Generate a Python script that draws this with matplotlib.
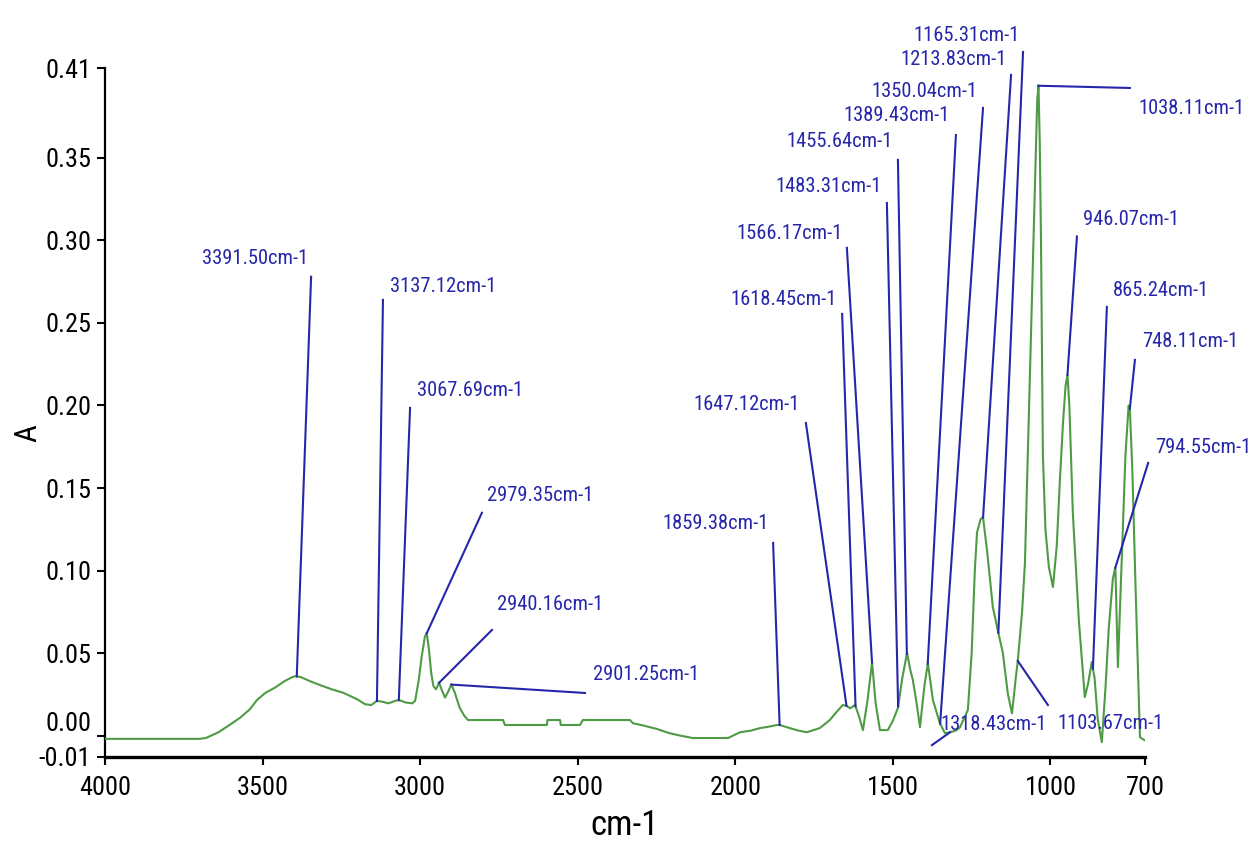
import numpy as np
import matplotlib
matplotlib.use("Agg")
import matplotlib.pyplot as plt
from matplotlib import font_manager as fm
from matplotlib.textpath import TextPath

# ---------------- data ----------------
wavenumber = [4000, 3700, 3680, 3640, 3600, 3570, 3540, 3518, 3490, 3461, 3430, 3410, 3397, 3380,
              3350, 3318, 3280, 3245, 3200, 3175, 3155, 3137, 3120, 3100, 3080, 3067, 3045, 3025,
              3016, 3005, 2995, 2985, 2979, 2972, 2965, 2958, 2950, 2940, 2930, 2921, 2910, 2901,
              2890, 2875, 2860, 2848, 2737, 2731, 2598, 2596, 2556, 2554, 2493, 2484, 2334, 2325,
              2290, 2249, 2210, 2176, 2135, 2023, 1985, 1950, 1922, 1890, 1868, 1859, 1827, 1800,
              1773, 1732, 1700, 1680, 1659, 1647, 1636, 1620, 1608, 1595, 1580, 1566, 1555, 1541,
              1516, 1500, 1484, 1470, 1455, 1445, 1437, 1425, 1414, 1400, 1389, 1373, 1351, 1335,
              1319, 1300, 1287, 1262, 1250, 1240, 1233, 1222, 1214, 1200, 1183, 1165, 1151, 1135,
              1122, 1110, 1104, 1090, 1081, 1065, 1050, 1042, 1038, 1034, 1030, 1024, 1016, 1005,
              992, 980, 970, 960, 952, 946, 940, 929, 910, 891, 880, 869, 860, 850, 837, 825, 815,
              802, 794, 786, 775, 762, 752, 748, 740, 730, 716, 700]
absorbance = [-0.002, -0.002, -0.0015, 0.002, 0.007, 0.011, 0.016, 0.0215, 0.026, 0.029, 0.033, 0.035, 0.036, 0.0355,
              0.033, 0.0306, 0.028, 0.026, 0.022, 0.019, 0.0185, 0.021, 0.0205, 0.0195, 0.021, 0.0215, 0.020, 0.0195,
              0.021, 0.033, 0.048, 0.060, 0.062, 0.052, 0.038, 0.030, 0.028, 0.032, 0.027, 0.023, 0.027, 0.031,
              0.026, 0.017, 0.012, 0.0094, 0.0094, 0.0064, 0.0064, 0.0094, 0.0094, 0.0064, 0.0064, 0.0094, 0.0094, 0.0075,
              0.006, 0.004, 0.0015, 0.0, -0.0015, -0.0015, 0.002, 0.003, 0.0045, 0.0055, 0.0064, 0.0064, 0.0045, 0.003,
              0.002, 0.0045, 0.0094, 0.014, 0.0185, 0.018, 0.0165, 0.0185, 0.012, 0.0033, 0.022, 0.0445, 0.020, 0.0033,
              0.0033, 0.009, 0.0167, 0.035, 0.050, 0.040, 0.034, 0.020, 0.005, 0.030, 0.044, 0.0215, 0.0076, 0.0015,
              0.002, 0.003, 0.005, 0.0155, 0.050, 0.100, 0.123, 0.131, 0.1324, 0.110, 0.078, 0.062, 0.050, 0.025,
              0.0135, 0.035, 0.0445, 0.075, 0.1045, 0.220, 0.330, 0.385, 0.394, 0.360, 0.300, 0.170, 0.125, 0.102,
              0.090, 0.115, 0.155, 0.190, 0.212, 0.2185, 0.200, 0.135, 0.070, 0.0233, 0.032, 0.0445, 0.035, 0.010, -0.004, 0.030, 0.065,
              0.095, 0.102, 0.0415, 0.100, 0.170, 0.200, 0.198, 0.160, 0.090, -0.001, -0.003]

peak_labels = ["3391.50cm-1", "3137.12cm-1", "3067.69cm-1", "2979.35cm-1", "2940.16cm-1", "2901.25cm-1",
               "1859.38cm-1", "1647.12cm-1", "1618.45cm-1", "1566.17cm-1", "1483.31cm-1", "1455.64cm-1",
               "1389.43cm-1", "1350.04cm-1", "1213.83cm-1", "1165.31cm-1", "1038.11cm-1", "946.07cm-1",
               "865.24cm-1", "748.11cm-1", "794.55cm-1", "1318.43cm-1", "1103.67cm-1"]
peak_positions = [3391.50, 3137.12, 3067.69, 2979.35, 2940.16, 2901.25, 1859.38, 1647.12, 1618.45, 1566.17,
                  1483.31, 1455.64, 1389.43, 1350.04, 1213.83, 1165.31, 1038.11, 946.07, 865.24, 748.11,
                  794.55, 1318.43, 1103.67]

x_ticks = [4000, 3500, 3000, 2500, 2000, 1500, 1000, 700]
y_min, y_max = -0.013, 0.4045
y_ticks = [y_min, 0.00, 0.05, 0.10, 0.15, 0.20, 0.25, 0.30, 0.35, y_max]
y_tick_labels = ["-0.01", "0.00", "0.05", "0.10", "0.15", "0.20", "0.25", "0.30", "0.35", "0.41"]

# ---------------- layout of the annotations (leader end, text anchor, alignment) ----------------
leader_end = [(3346, 0.278), (3118, 0.264), (3032, 0.1985), (2804, 0.135), (2772, 0.064), (2477, 0.0258),
              (1880, 0.1167), (1776, 0.1894), (1661, 0.2555), (1646, 0.2955), (1519, 0.3227), (1484, 0.3488),
              (1300, 0.3639), (1214, 0.3803), (1125, 0.4003), (1087, 0.4142), (748, 0.3924), (916, 0.3024),
              (821, 0.2597), (732, 0.2276), (690, 0.1652), (1376, -0.0058), (1008, 0.0185)]
text_anchor = [(3356, 0.2888, 'right'), (3096, 0.2718, 'left'), (3010, 0.2088, 'left'), (2788, 0.1452, 'left'),
               (2756, 0.0797, 'left'), (2451, 0.0367, 'left'), (1893, 0.1282, 'right'), (1795, 0.2003, 'right'),
               (1677, 0.2645, 'right'), (1658, 0.3045, 'right'), (1534, 0.3324, 'right'), (1500, 0.3597, 'right'),
               (1319, 0.3755, 'right'), (1230, 0.3900, 'right'), (1138, 0.4094, 'right'), (1097, 0.4239, 'right'),
               (722, 0.3797, 'left'), (897, 0.3127, 'left'), (801, 0.2694, 'left'), (709, 0.2385, 'left'),
               (668, 0.1748, 'left'), (1350, 0.0064, 'left'), (979, 0.0076, 'left')]

GREEN = '#4f9a45'
BLUE = '#2626aa'
DPI = 100

# ---------------- font: prefer a narrow/condensed sans ----------------
entries = fm.fontManager.ttflist
names = {e.name for e in entries}
family, stretch = 'Liberation Sans', 'normal'
for cand in ['Liberation Sans Narrow', 'Arial Narrow', 'Roboto Condensed', 'Open Sans Condensed',
             'Noto Sans Condensed', 'DejaVu Sans Condensed']:
    if cand in names:
        family = cand
        break
else:
    for fam in ['Liberation Sans', 'Roboto', 'Noto Sans', 'Open Sans', 'DejaVu Sans']:
        if any(e.name == fam and str(e.stretch) in ('condensed', 'semi-condensed', 'extra-condensed')
               and e.style == 'normal' for e in entries):
            family, stretch = fam, 'condensed'
            break
plt.rcParams['font.family'] = [family, 'DejaVu Sans']
plt.rcParams['font.stretch'] = stretch
prop = fm.FontProperties(family=[family, 'DejaVu Sans'], stretch=stretch)


def fit_size(sample, width_px, height_px):
    ext = TextPath((0, 0), sample, size=100, prop=prop).get_extents()
    w = ext.width / 100 * DPI / 72
    h = ext.height / 100 * DPI / 72
    return min(width_px / w * 1.08, height_px / h)


tick_size = fit_size("0.35", 40, 20)
note_size = fit_size("3391.50", 68, 15)
xlab_size = fit_size("cm-1", 56, 29)
ylab_size = fit_size("A", 26, 22)

fig = plt.figure(figsize=(12.58, 8.50), dpi=DPI)
ax = fig.add_axes([105 / 1258, 1 - 757 / 850, 1040 / 1258, 689 / 850])

ax.plot(wavenumber, absorbance, color=GREEN, lw=1.5, zorder=3)

wn_sorted = np.array(wavenumber[::-1], dtype=float)
ab_sorted = np.array(absorbance[::-1], dtype=float)
for lab, pk, (ex, ey), (tx, ty, ha) in zip(peak_labels, peak_positions, leader_end, text_anchor):
    py = float(np.interp(pk, wn_sorted, ab_sorted))
    ax.plot([pk, ex], [py, ey], color=BLUE, lw=1.5, clip_on=False, zorder=4)
    ax.text(tx, ty, lab, color=BLUE, fontsize=note_size, ha=ha, va='center', clip_on=False, zorder=5)

ax.set_xlim(4000, 700)
ax.set_ylim(y_min, y_max)
ax.set_xticks(x_ticks)
ax.set_xticklabels([str(t) for t in x_ticks])
ax.set_yticks(y_ticks)
ax.set_yticklabels(y_tick_labels)

for s in ['top', 'right']:
    ax.spines[s].set_visible(False)
ax.spines['left'].set_linewidth(1.6)
ax.spines['bottom'].set_linewidth(2.4)
ax.tick_params(axis='both', direction='out', length=6, width=1.5, labelsize=tick_size, colors='black')
ax.tick_params(axis='x', pad=8)
ax.tick_params(axis='y', pad=4)
# the "0.00" label sits just above its tick so it clears "-0.01"
ax.get_yticklabels()[1].set_verticalalignment('bottom')

ax.set_xlabel('cm-1', fontsize=xlab_size, labelpad=6)
ax.set_ylabel('A', fontsize=ylab_size)
ax.yaxis.set_label_coords(-0.060, 0.47)

fig.savefig('out.png', dpi=DPI, facecolor='white')
